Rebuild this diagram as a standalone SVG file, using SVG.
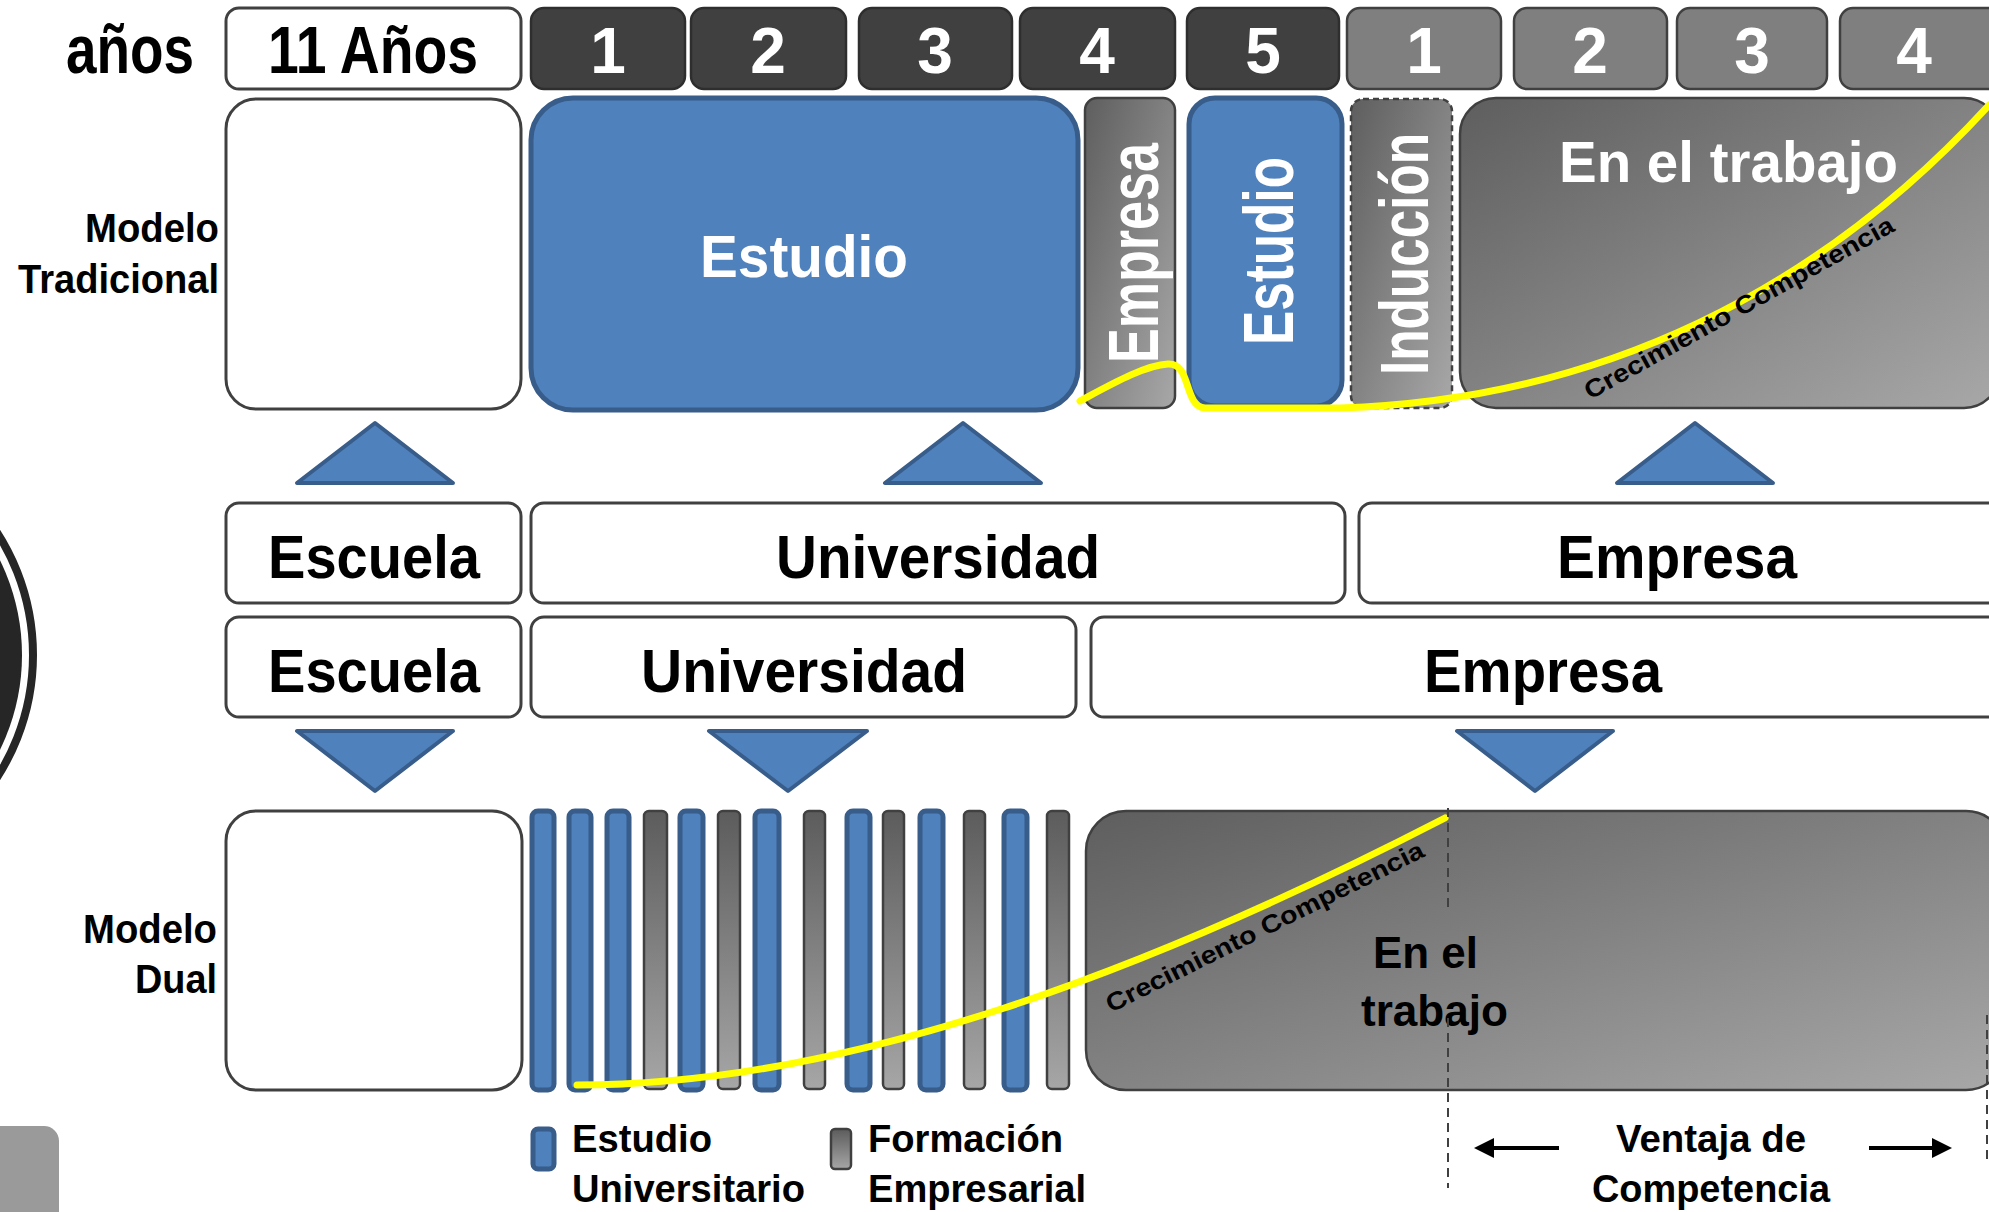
<svg xmlns="http://www.w3.org/2000/svg" width="1989" height="1212" viewBox="0 0 1989 1212">
<defs>
<linearGradient id="gDiag" x1="0" y1="0" x2="1" y2="1">
<stop offset="0" stop-color="#5e5e5e"/>
<stop offset="1" stop-color="#a8a8a8"/>
</linearGradient>
<linearGradient id="gVert" x1="0" y1="0" x2="0" y2="1">
<stop offset="0" stop-color="#5c5c5c"/>
<stop offset="1" stop-color="#a6a6a6"/>
</linearGradient>
<marker id="ah" viewBox="0 0 10 10" refX="2" refY="5" markerWidth="20" markerHeight="20" orient="auto" markerUnits="userSpaceOnUse">
<path d="M0,0 L10,5 L0,10 Z" fill="#000"/>
</marker>
</defs>
<style>
text{font-family:"Liberation Sans Narrow","Arial Narrow","Liberation Sans",Arial,sans-serif;font-weight:bold}
.w{fill:#fff;stroke:#404040;stroke-width:3}
.dk{fill:#404040;stroke:#2e2e2e;stroke-width:2.5}
.gy{fill:#7f7f7f;stroke:#404040;stroke-width:2.5}
.bl{fill:#4f81bd;stroke:#385d8a;stroke-width:5}
.gd{fill:url(#gDiag);stroke:#404040;stroke-width:2.5}
.gv{fill:url(#gVert);stroke:#404040;stroke-width:2.5}
.tri{fill:#4f81bd;stroke:#385d8a;stroke-width:4;stroke-linejoin:round}
.num{fill:#fff;font-size:64px;text-anchor:middle}
.wt{fill:#fff}
.bk{fill:#000}
.yel{fill:none;stroke:#ffff00;stroke-width:7;stroke-linecap:round;stroke-linejoin:round}
.dash{stroke:#404040;stroke-width:2;stroke-dasharray:9 6;fill:none}
.arr{stroke:#000;stroke-width:4;fill:none}
</style>

<!-- left decorations -->
<g id="deco">
<circle cx="-193" cy="655" r="226" fill="none" stroke="#262626" stroke-width="8"/>
<circle cx="-193" cy="655" r="215" fill="#262626"/>
<rect x="-30" y="1126" width="89" height="120" rx="15" fill="#9a9a9a"/>
</g>

<!-- header row -->
<g id="hdr-anos"><text x="66" y="73" font-size="68" textLength="128" lengthAdjust="spacingAndGlyphs" class="bk">años</text></g>
<g id="hdr-11"><rect class="w" x="226" y="8" width="295" height="81" rx="13"/><text x="268" y="73" font-size="66" textLength="210" lengthAdjust="spacingAndGlyphs" class="bk">11 Años</text></g>
<g id="hdr-u1"><rect class="dk" x="531" y="8" width="154" height="81" rx="13"/><text class="num" x="608" y="73">1</text></g>
<g id="hdr-u2"><rect class="dk" x="691" y="8" width="155" height="81" rx="13"/><text class="num" x="768" y="73">2</text></g>
<g id="hdr-u3"><rect class="dk" x="859" y="8" width="153" height="81" rx="13"/><text class="num" x="935" y="73">3</text></g>
<g id="hdr-u4"><rect class="dk" x="1020" y="8" width="155" height="81" rx="13"/><text class="num" x="1097" y="73">4</text></g>
<g id="hdr-u5"><rect class="dk" x="1187" y="8" width="152" height="81" rx="13"/><text class="num" x="1263" y="73">5</text></g>
<g id="hdr-e1"><rect class="gy" x="1347" y="8" width="154" height="81" rx="13"/><text class="num" x="1424" y="73">1</text></g>
<g id="hdr-e2"><rect class="gy" x="1514" y="8" width="153" height="81" rx="13"/><text class="num" x="1590" y="73">2</text></g>
<g id="hdr-e3"><rect class="gy" x="1677" y="8" width="150" height="81" rx="13"/><text class="num" x="1752" y="73">3</text></g>
<g id="hdr-e4"><rect class="gy" x="1840" y="8" width="165" height="81" rx="13"/><text class="num" x="1914" y="73">4</text></g>

<!-- traditional model -->
<g id="lbl-trad">
<text x="85" y="242" font-size="40" textLength="134" lengthAdjust="spacingAndGlyphs" class="bk">Modelo</text>
<text x="18" y="293" font-size="40" textLength="201" lengthAdjust="spacingAndGlyphs" class="bk">Tradicional</text>
</g>
<g id="trad-escuela"><rect class="w" x="226" y="99" width="295" height="310" rx="30"/></g>
<g id="trad-estudio"><rect class="bl" x="531" y="98" width="547" height="312" rx="42"/><text x="700" y="277" font-size="60" textLength="208" lengthAdjust="spacingAndGlyphs" class="wt">Estudio</text></g>
<g id="trad-empresa"><rect class="gd" x="1085" y="98" width="90" height="310" rx="12"/><text transform="translate(1158,363) rotate(-90)" font-size="70" textLength="220" lengthAdjust="spacingAndGlyphs" class="wt">Empresa</text></g>
<g id="trad-estudio2"><rect class="bl" x="1189" y="98" width="153" height="308" rx="26"/><text transform="translate(1293,345) rotate(-90)" font-size="70" textLength="188" lengthAdjust="spacingAndGlyphs" class="wt">Estudio</text></g>
<g id="trad-induccion"><rect class="gd" x="1351" y="99" width="101" height="309" rx="12" stroke-dasharray="6 4"/><text transform="translate(1428,375) rotate(-90)" font-size="68" textLength="242" lengthAdjust="spacingAndGlyphs" class="wt">Inducción</text></g>
<g id="trad-trabajo"><rect class="gd" x="1460" y="98" width="540" height="310" rx="36"/><text x="1559" y="182" font-size="58" textLength="339" lengthAdjust="spacingAndGlyphs" class="wt">En el trabajo</text></g>

<!-- middle rows -->
<g id="row-trad-escuela"><rect class="w" x="226" y="503" width="295" height="100" rx="13"/><text x="268" y="578" font-size="62" textLength="212" lengthAdjust="spacingAndGlyphs" class="bk">Escuela</text></g>
<g id="row-trad-univ"><rect class="w" x="531" y="503" width="814" height="100" rx="13"/><text x="776" y="578" font-size="62" textLength="324" lengthAdjust="spacingAndGlyphs" class="bk">Universidad</text></g>
<g id="row-trad-empresa"><rect class="w" x="1359" y="503" width="645" height="100" rx="13"/><text x="1557" y="578" font-size="62" textLength="240" lengthAdjust="spacingAndGlyphs" class="bk">Empresa</text></g>
<g id="row-dual-escuela"><rect class="w" x="226" y="617" width="295" height="100" rx="13"/><text x="268" y="692" font-size="62" textLength="212" lengthAdjust="spacingAndGlyphs" class="bk">Escuela</text></g>
<g id="row-dual-univ"><rect class="w" x="531" y="617" width="545" height="100" rx="13"/><text x="641" y="692" font-size="62" textLength="326" lengthAdjust="spacingAndGlyphs" class="bk">Universidad</text></g>
<g id="row-dual-empresa"><rect class="w" x="1091" y="617" width="912" height="100" rx="13"/><text x="1424" y="692" font-size="62" textLength="238" lengthAdjust="spacingAndGlyphs" class="bk">Empresa</text></g>

<!-- dual model -->
<g id="lbl-dual">
<text x="83" y="943" font-size="40" textLength="134" lengthAdjust="spacingAndGlyphs" class="bk">Modelo</text>
<text x="135" y="993" font-size="40" textLength="82" lengthAdjust="spacingAndGlyphs" class="bk">Dual</text>
</g>
<g id="dual-escuela"><rect class="w" x="226" y="811" width="296" height="279" rx="30"/></g>
<g id="dual-bars">
<rect class="bl" x="532" y="811" width="22" height="279" rx="6"/>
<rect class="bl" x="569" y="811" width="22" height="279" rx="6"/>
<rect class="bl" x="607" y="811" width="22" height="279" rx="6"/>
<rect class="gv" x="644" y="811" width="23" height="278" rx="5"/>
<rect class="bl" x="680" y="811" width="23" height="279" rx="6"/>
<rect class="gv" x="718" y="811" width="22" height="278" rx="5"/>
<rect class="bl" x="755" y="811" width="24" height="279" rx="6"/>
<rect class="gv" x="804" y="811" width="21" height="278" rx="5"/>
<rect class="bl" x="847" y="811" width="23" height="279" rx="6"/>
<rect class="gv" x="883" y="811" width="21" height="278" rx="5"/>
<rect class="bl" x="920" y="811" width="23" height="279" rx="6"/>
<rect class="gv" x="964" y="811" width="21" height="278" rx="5"/>
<rect class="bl" x="1004" y="811" width="23" height="279" rx="6"/>
<rect class="gv" x="1047" y="811" width="22" height="278" rx="5"/>
</g>
<g id="dual-trabajo"><rect class="gd" x="1086" y="811" width="920" height="279" rx="40"/>
<text x="1373" y="968" font-size="45" textLength="105" lengthAdjust="spacingAndGlyphs" class="bk">En el</text>
<text x="1361" y="1026" font-size="45" textLength="147" lengthAdjust="spacingAndGlyphs" class="bk">trabajo</text>
</g>

<!-- legend -->
<g id="legend-estudio"><rect class="bl" x="533" y="1129" width="21" height="40" rx="5" stroke-width="4"/>
<text x="572" y="1152" font-size="38" textLength="140" lengthAdjust="spacingAndGlyphs" class="bk">Estudio</text>
<text x="572" y="1202" font-size="38" textLength="233" lengthAdjust="spacingAndGlyphs" class="bk">Universitario</text></g>
<g id="legend-formacion"><rect class="gv" x="831" y="1129" width="20" height="40" rx="4"/>
<text x="868" y="1152" font-size="38" textLength="195" lengthAdjust="spacingAndGlyphs" class="bk">Formación</text>
<text x="868" y="1202" font-size="38" textLength="218" lengthAdjust="spacingAndGlyphs" class="bk">Empresarial</text></g>
<g id="legend-ventaja">
<text x="1616" y="1152" font-size="38" textLength="190" lengthAdjust="spacingAndGlyphs" class="bk">Ventaja de</text>
<text x="1592" y="1202" font-size="38" textLength="238" lengthAdjust="spacingAndGlyphs" class="bk">Competencia</text></g>

<!-- connectors -->
<g id="connectors">
<polygon class="tri" points="375,423 297,483 453,483"/>
<polygon class="tri" points="963,423 885,483 1041,483"/>
<polygon class="tri" points="1695,423 1617,483 1773,483"/>
<polygon class="tri" points="297,731 453,731 375,791"/>
<polygon class="tri" points="709,731 867,731 788,791"/>
<polygon class="tri" points="1457,731 1613,731 1535,791"/>
<path class="yel" d="M1080,401 C1110,385 1145,365 1168,364 C1192,363 1183,406 1205,408 L1340,408 C1600,400 1820,290 1989,105"/>
<path class="yel" d="M577,1085 C850,1085 1150,970 1445,818"/>
<line class="dash" x1="1448" y1="808" x2="1448" y2="908"/>
<line class="dash" x1="1448" y1="1018" x2="1448" y2="1188"/>
<line class="dash" x1="1987" y1="1015" x2="1987" y2="1165"/>
<line class="arr" x1="1559" y1="1148" x2="1490" y2="1148" marker-end="url(#ah)"/>
<line class="arr" x1="1869" y1="1148" x2="1936" y2="1148" marker-end="url(#ah)"/>
</g>
<g id="curve-labels">
<text transform="translate(1590,400) rotate(-29)" font-size="25" textLength="350" lengthAdjust="spacingAndGlyphs" class="bk">Crecimiento Competencia</text>
<text transform="translate(1111,1013) rotate(-26.5)" font-size="25" textLength="352" lengthAdjust="spacingAndGlyphs" class="bk">Crecimiento Competencia</text>
</g>
</svg>
